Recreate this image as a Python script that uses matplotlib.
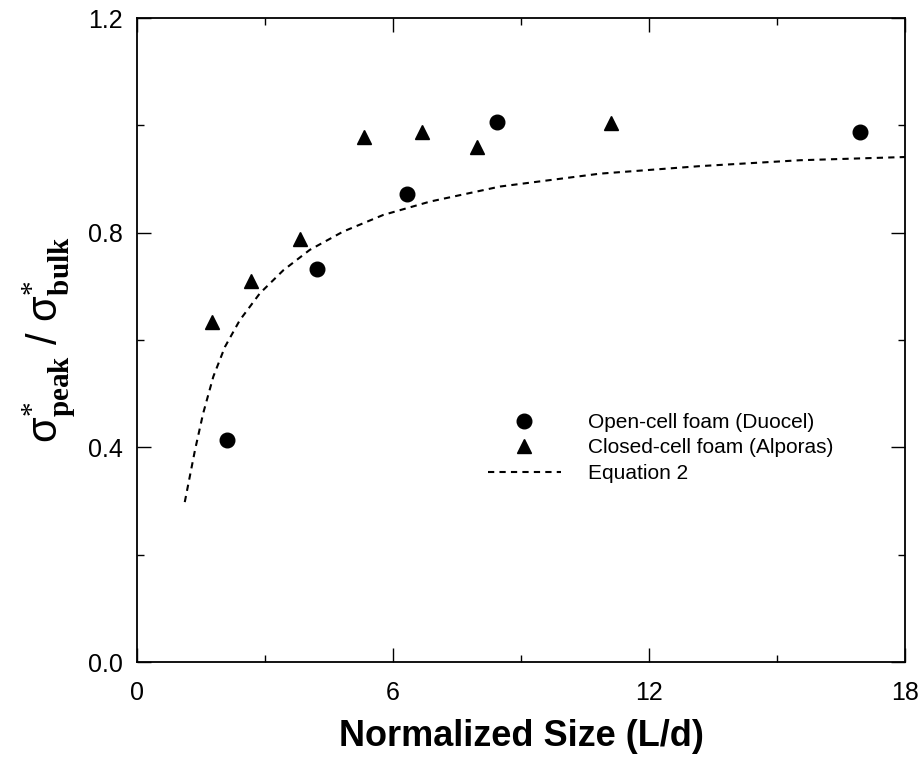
import matplotlib
matplotlib.use("Agg")
import matplotlib.pyplot as plt
from matplotlib.ticker import MultipleLocator, FormatStrFormatter

# open-cell foam (Duocel)
open_x = [2.12, 4.23, 6.33, 8.43, 16.94]
open_y = [0.414, 0.733, 0.872, 1.007, 0.987]

# closed-cell foam (Alporas)
closed_x = [1.75, 2.67, 3.83, 5.32, 6.67, 7.98, 11.10]
closed_y = [0.633, 0.710, 0.789, 0.978, 0.988, 0.959, 1.005]

# Equation 2
eq_x = [1.12, 1.36, 1.55, 1.79, 2.06, 2.41, 2.88, 3.43, 4.05, 4.83, 5.77,
        6.87, 8.51, 10.85, 13.19, 15.54, 18.0]
eq_y = [0.298, 0.395, 0.463, 0.532, 0.587, 0.637, 0.687, 0.730, 0.768,
        0.802, 0.833, 0.858, 0.886, 0.910, 0.924, 0.935, 0.941]

x_ticks = [0, 6, 12, 18]
y_ticks = [0.0, 0.4, 0.8, 1.2]

plt.rcParams['font.family'] = ['Liberation Sans', 'DejaVu Sans']
plt.rcParams['mathtext.fontset'] = 'custom'
plt.rcParams['mathtext.rm'] = 'Liberation Serif'
plt.rcParams['mathtext.bf'] = 'Liberation Serif:bold'

fig = plt.figure(figsize=(9.23, 7.6), dpi=100)
ax = fig.add_axes([0.1484, 0.1289, 0.8321, 0.8474])

ax.plot(open_x, open_y, 'o', color='black', markersize=10.5, label='Open-cell foam (Duocel)')
ax.plot(closed_x, closed_y, '^', color='black', markersize=10, label='Closed-cell foam (Alporas)')
ax.plot(eq_x, eq_y, color='black', linestyle=(0, (3, 2.5)), linewidth=1.5, label='Equation 2')

ax.set_xlim(0, 18)
ax.set_ylim(0, 1.2)
ax.set_xticks(x_ticks)
ax.set_yticks(y_ticks)
ax.xaxis.set_minor_locator(MultipleLocator(3))
ax.yaxis.set_minor_locator(MultipleLocator(0.2))
ax.yaxis.set_major_formatter(FormatStrFormatter('%.1f'))
ax.tick_params(which='both', direction='in', top=True, right=True, width=1, labelsize=18)
ax.tick_params(which='major', length=10)
ax.tick_params(which='minor', length=5)
ax.tick_params(axis='x', pad=14)
ax.tick_params(axis='y', pad=10)
for s in ax.spines.values():
    s.set_linewidth(1.3)

ax.set_xlabel('Normalized Size (L/d)', fontsize=26, fontweight='bold', labelpad=10)
ax.set_ylabel('σ' + r'$^{*}_{\mathbf{peak}}$' + ' / σ' + r'$^{*}_{\mathbf{bulk}}$',
              fontsize=30, labelpad=8)

ax.legend(loc='upper left', bbox_to_anchor=(0.457, 0.387), frameon=False, fontsize=15,
          handlelength=3.5, handletextpad=1.3, labelspacing=0.32, borderaxespad=0,
          borderpad=0)

fig.savefig('out.png', dpi=100)
